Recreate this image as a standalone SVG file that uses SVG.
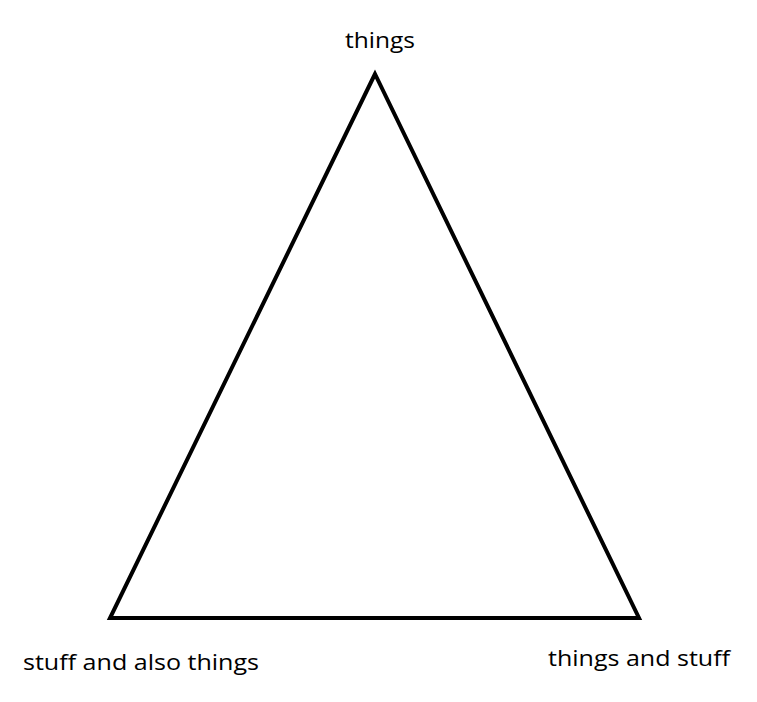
<svg xmlns="http://www.w3.org/2000/svg" width="757" height="702" viewBox="0 0 757 702">
<style>
.lbl{font-family:"Open Sans","Liberation Sans",sans-serif;font-size:22px;fill:#000}
.edge{fill:none;stroke:#000;stroke-width:4;stroke-linejoin:miter}
</style>
<rect width="757" height="702" fill="#fff"/>
<g id="connectors">
<polygon class="edge" points="375,74 110,618 639,618"/>
</g>
<g id="node-top"><text class="lbl" x="345" y="48" textLength="70" lengthAdjust="spacingAndGlyphs">things</text></g>
<g id="node-left"><text class="lbl" x="23" y="670" textLength="236" lengthAdjust="spacingAndGlyphs">stuff and also things</text></g>
<g id="node-right"><text class="lbl" x="548" y="666" textLength="182" lengthAdjust="spacingAndGlyphs">things and stuff</text></g>
</svg>
